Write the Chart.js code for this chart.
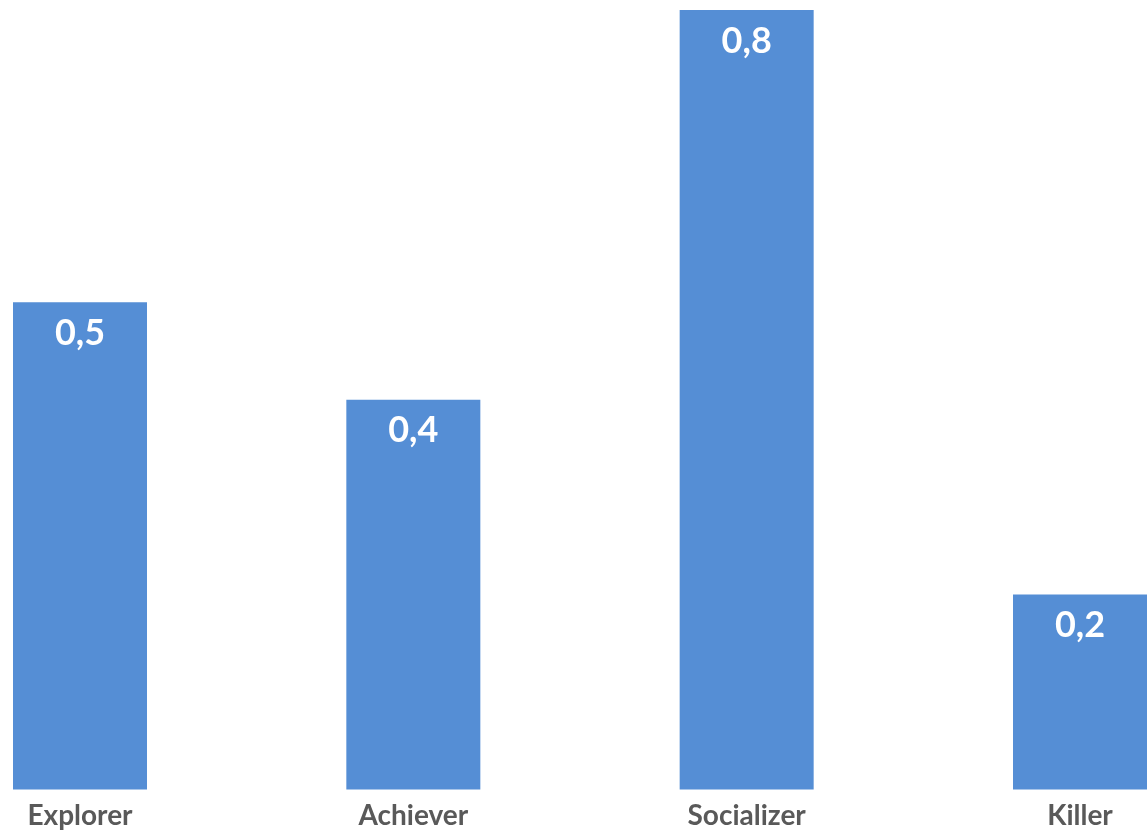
<!DOCTYPE html>
<html lang="pt-BR">
<head>
    <meta charset="UTF-8">
    <title>Tipos de jogador</title>
    <script src="https://cdn.jsdelivr.net/npm/chart.js"></script>
    <style>
        body {
            margin: 0;
            background: #ffffff;
        }

        .chart-container {
            width: 1147px;
            height: 833px;
        }
    </style>
</head>
<body>

<div class="chart-container">
    <canvas id="tiposChart"></canvas>
</div>

<script>
// Dados do grafico
const categorias = ['Explorer', 'Achiever', 'Socializer', 'Killer'];
const valores = [0.5, 0.4, 0.8, 0.2];

// rotulos dentro das barras (formato 0,5)
const rotulosBarras = {
    id: 'rotulosBarras',
    afterDatasetsDraw(chart) {
        const ctx = chart.ctx;
        const meta = chart.getDatasetMeta(0);
        ctx.save();
        ctx.fillStyle = '#ffffff';
        ctx.font = 'bold 36px Lato, sans-serif';
        ctx.textAlign = 'center';
        ctx.textBaseline = 'middle';
        meta.data.forEach((bar, i) => {
            const texto = valores[i].toFixed(1).replace('.', ',');
            ctx.fillText(texto, bar.x, bar.y + 31);
        });
        ctx.restore();
    }
};

const ctxTipos = document.getElementById('tiposChart').getContext('2d');
const tiposChart = new Chart(ctxTipos, {
    type: 'bar',
    data: {
        labels: categorias,
        datasets: [{
            data: valores,
            backgroundColor: '#558ed5',
            borderWidth: 0,
            categoryPercentage: 0.402,
            barPercentage: 1,
            clip: false // barras das pontas passam da area do grafico
        }]
    },
    options: {
        responsive: true,
        maintainAspectRatio: false,
        animation: false,
        layout: {
            padding: { left: 80, right: 67, top: 10, bottom: -10 }
        },
        plugins: {
            legend: { display: false },
            tooltip: { enabled: false }
        },
        scales: {
            x: {
                offset: false,
                grid: { display: false, drawTicks: false },
                border: { display: false },
                ticks: {
                    color: '#595959',
                    padding: 10,
                    font: { family: 'Lato', size: 28, weight: 'bold' }
                }
            },
            y: {
                display: false,
                min: 0,
                max: 0.8
            }
        }
    },
    plugins: [rotulosBarras]
});
</script>
</body>
</html>
